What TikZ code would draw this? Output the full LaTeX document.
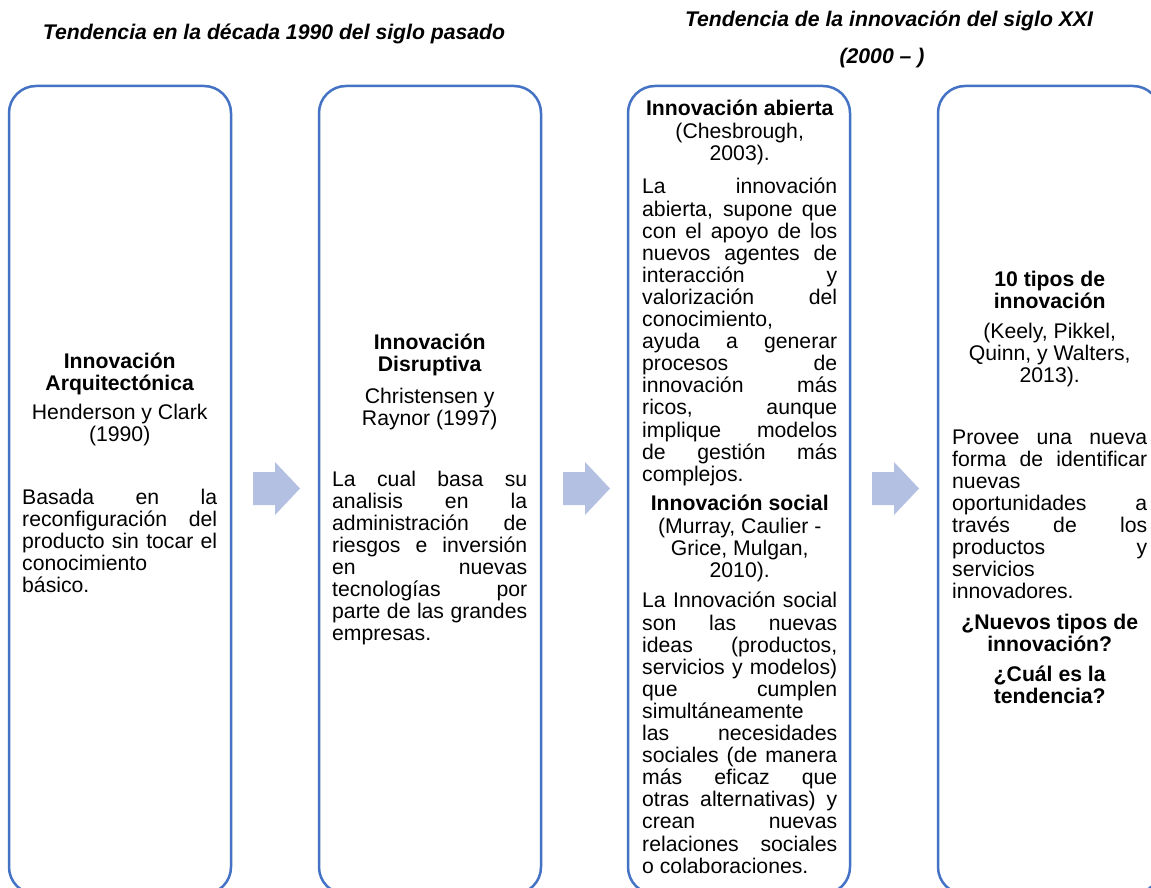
\documentclass[tikz,border=0pt]{standalone}
\usepackage{fontspec}
\setmainfont{Liberation Sans}
\definecolor{boxblue}{HTML}{4472C4}
\definecolor{arrowfill}{HTML}{B4C0E2}
\newcommand\tjust[1]{\hbox to \hsize{#1}}
\newcommand\tleft[1]{\hbox to \hsize{#1\hfil}}
\newcommand\tcent[1]{\hbox to \hsize{\hfil#1\hfil}}
\newcommand\gap[1]{\vskip#1pt}
\newcommand\colbox[1]{\vtop{\hsize=195pt\baselineskip=22.1pt\lineskiplimit=-100pt\lineskip=0pt #1}}
\tikzset{
  stage/.style={draw=boxblue, line width=2.5pt, rounded corners=27pt, minimum width=222pt, minimum height=808pt, inner sep=0pt},
  coltext/.style={anchor=base west, inner sep=0pt, font=\fontsize{21.2}{22.1}\selectfont},
  heading/.style={anchor=base, inner sep=0pt, font=\fontsize{21.2}{22.1}\selectfont\bfseries\itshape},
  blockarrow/.style={fill=arrowfill, draw=none}
}
\begin{document}
\begin{tikzpicture}[x=1pt,y=-1pt]
\useasboundingbox (0,0) rectangle (1151,888);
\clip (0,0) rectangle (1151,888);
\fill[white] (0,0) rectangle (1151,888);
% titles
\node[heading] (t1) at (274,40) {Tendencia en la década 1990 del siglo pasado};
\node[heading] (t2) at (889,27) {Tendencia de la innovación del siglo XXI};
\node[heading] (t3) at (882,64) {(2000 – )};
% boxes
\node[stage] (b1) at (120,490) {};
\node[stage] (b2) at (430,490) {};
\node[stage] (b3) at (739,490) {};
\node[stage] (b4) at (1049,490) {};
% arrows
\foreach \x in {253,563,872}
  \fill[blockarrow] (\x,472) -- (\x+22,472) -- (\x+22,462) -- (\x+47,488.5) -- (\x+22,515) -- (\x+22,505) -- (\x,505) -- cycle;
% texts
\node[coltext] (x1) at (22,368) {\colbox{%
\tcent{\bfseries Innovación}
\tcent{\bfseries Arquitectónica}
\gap{6.8}
\tcent{Henderson y Clark}
\tcent{(1990)}
\gap{40.8}
\tjust{Basada en la}
\tjust{reconfiguración del}
\tjust{producto sin tocar el}
\tleft{conocimiento}
\tleft{básico.}}};
\node[coltext] (x2) at (332,349) {\colbox{%
\tcent{\bfseries Innovación}
\tcent{\bfseries Disruptiva}
\gap{9.8}
\tcent{Christensen y}
\tcent{Raynor (1997)}
\gap{38.8}
\tjust{La cual basa su}
\tjust{analisis en la}
\tjust{administración de}
\tjust{riesgos e inversión}
\tjust{en nuevas}
\tjust{tecnologías por}
\tjust{parte de las grandes}
\tleft{empresas.}}};
\node[coltext] (x3) at (642,116) {\colbox{%
\tcent{\bfseries Innovación abierta}
\tcent{(Chesbrough,}
\tcent{2003).}
\gap{11.7}
\tjust{La innovación}
\tjust{abierta, supone que}
\tjust{con el apoyo de los}
\tjust{nuevos agentes de}
\tjust{interacción y}
\tjust{valorización del}
\tleft{conocimiento,}
\tjust{ayuda a generar}
\tjust{procesos de}
\tjust{innovación más}
\tjust{ricos, aunque}
\tjust{implique modelos}
\tjust{de gestión más}
\tleft{complejos.}
\gap{7.6}
\tcent{\bfseries Innovación social}
\tcent{(Murray, Caulier -}
\tcent{Grice, Mulgan,}
\tcent{2010).}
\gap{8.6}
\tjust{La Innovación social}
\tjust{son las nuevas}
\tjust{ideas (productos,}
\tjust{servicios y modelos)}
\tjust{que cumplen}
\tleft{simultáneamente}
\tjust{las necesidades}
\tjust{sociales (de manera}
\tjust{más eficaz que}
\tjust{otras alternativas) y}
\tjust{crean nuevas}
\tjust{relaciones sociales}
\tleft{o colaboraciones.}}};
\node[coltext] (x4) at (952,286) {\colbox{%
\tcent{\bfseries 10 tipos de}
\tcent{\bfseries innovación}
\gap{7.8}
\tcent{(Keely, Pikkel,}
\tcent{Quinn, y Walters,}
\tcent{2013).}
\gap{39.7}
\tjust{Provee una nueva}
\tjust{forma de identificar}
\tleft{nuevas}
\tjust{oportunidades a}
\tjust{través de los}
\tjust{productos y}
\tleft{servicios}
\tleft{innovadores.}
\gap{8.2}
\tcent{\bfseries ¿Nuevos tipos de}
\tcent{\bfseries innovación?}
\gap{7.8}
\tcent{\bfseries ¿Cuál es la}
\tcent{\bfseries tendencia?}}};
\end{tikzpicture}
\end{document}
